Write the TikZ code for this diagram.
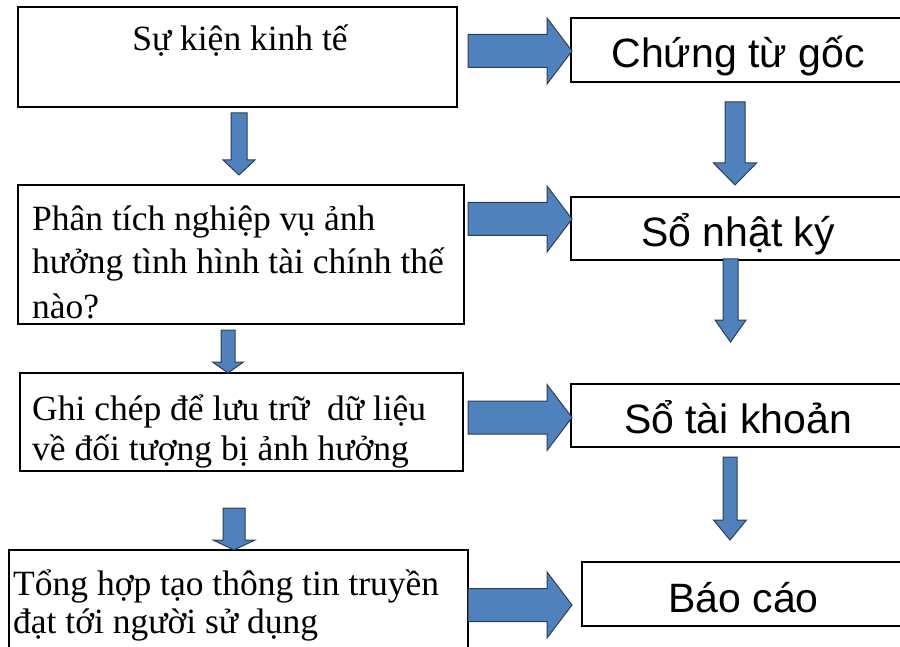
\documentclass[tikz,border=0pt]{standalone}
\usepackage{fontspec}
\setmainfont{Liberation Serif}
\newfontfamily\arialf{Liberation Sans}
\usetikzlibrary{calc}
\definecolor{arrowblue}{HTML}{4F81BD}
\definecolor{arrowline}{HTML}{2E3D52}

\tikzset{
  box/.style={draw, line width=1.2pt, inner sep=0pt},
  stepfont/.style={font=\fontsize{35.5pt}{#1}\selectfont},
  ltext/.style={inner sep=0pt, align=left, anchor=base west},
  rbox/.style={box, font=\arialf\fontsize{41pt}{49pt}\selectfont,
    text height=36pt, text depth=0pt},
  fat/.style n args={3}{draw=arrowline, fill=arrowblue, line width=1pt,
    to path={
      ($(\tikztostart)!#1!90:(\tikztotarget)$)
      -- ($(\tikztotarget)!#3!(\tikztostart)!#1!-90:(\tikztostart)$)
      -- ($(\tikztotarget)!#3!(\tikztostart)!#2!-90:(\tikztostart)$)
      -- (\tikztotarget)
      -- ($(\tikztotarget)!#3!(\tikztostart)!#2!90:(\tikztostart)$)
      -- ($(\tikztotarget)!#3!(\tikztostart)!#1!90:(\tikztostart)$)
      -- ($(\tikztostart)!#1!-90:(\tikztotarget)$)
      -- cycle}},
}

\begin{document}
\begin{tikzpicture}[x=1pt,y=-1pt]
\useasboundingbox (0,0) rectangle (900,647);

% left column
\node[box, minimum width=439pt, minimum height=100pt] (a1) at (237.5,57) {};
\node[box, minimum width=446pt, minimum height=139pt] (a2) at (241,254.5) {};
\node[box, minimum width=443pt, minimum height=98pt] (a3) at (241.5,422) {};
\node[box, minimum width=459pt, minimum height=140pt] (a4) at (238.5,620) {};

% base anchor = last line
\node[stepfont=44pt, inner sep=0pt, anchor=base] (t1) at (240,51) {Sự kiện kinh tế};
\node[ltext, stepfont=44pt] (t2) at (32,318) {Phân tích nghiệp vụ ảnh\\hưởng tình hình tài chính thế\\nào?};
\node[ltext, stepfont=40pt] (t3) at (32,460) {Ghi chép để lưu trữ\ \ dữ liệu\\về đối tượng bị ảnh hưởng};
\node[ltext, stepfont=38pt] (t4) at (13,633) {Tổng hợp tạo thông tin truyền\\đạt tới người sử dụng};

% right column
\node[rbox, minimum width=334pt, minimum height=64pt] (b1) at (738,50) {Chứng từ gốc};
\node[rbox, minimum width=334pt, minimum height=63pt] (b2) at (738,228.5) {Sổ nhật ký};
\node[rbox, minimum width=334pt, minimum height=63pt] (b3) at (738,415.5) {Sổ tài khoản};
\node[rbox, minimum width=323pt, minimum height=64pt] (b4) at (743.5,594) {Báo cáo};

% arrow ends
\coordinate (h1) at (468,51);    \coordinate (k1) at (572,51);
\coordinate (h2) at (468,219);   \coordinate (k2) at (572,219);
\coordinate (h3) at (468,417.5); \coordinate (k3) at (572,417.5);
\coordinate (h4) at (468,605);   \coordinate (k4) at (572,605);
\coordinate (u1) at (239,113);   \coordinate (v1) at (239,175);
\coordinate (u2) at (228,330);   \coordinate (v2) at (228,373);
\coordinate (u3) at (234,508);   \coordinate (v3) at (234,550);
\coordinate (w1) at (735,102);   \coordinate (z1) at (735,185);
\coordinate (w2) at (730.5,259); \coordinate (z2) at (730.5,342);
\coordinate (w3) at (730,457);   \coordinate (z3) at (730,540);

\path[fat={16.5pt}{33pt}{25pt}] (h1) to (k1) (h2) to (k2) (h3) to (k3) (h4) to (k4);
\path[fat={8pt}{16pt}{15pt}] (u1) to (v1);
\path[fat={7pt}{15.5pt}{11pt}] (u2) to (v2);
\path[fat={11pt}{21pt}{10pt}] (u3) to (v3);
\path[fat={10pt}{21.5pt}{22pt}] (w1) to (z1);
\path[fat={7.5pt}{15.5pt}{22pt}] (w2) to (z2);
\path[fat={7pt}{16.5pt}{20pt}] (w3) to (z3);

\end{tikzpicture}
\end{document}
